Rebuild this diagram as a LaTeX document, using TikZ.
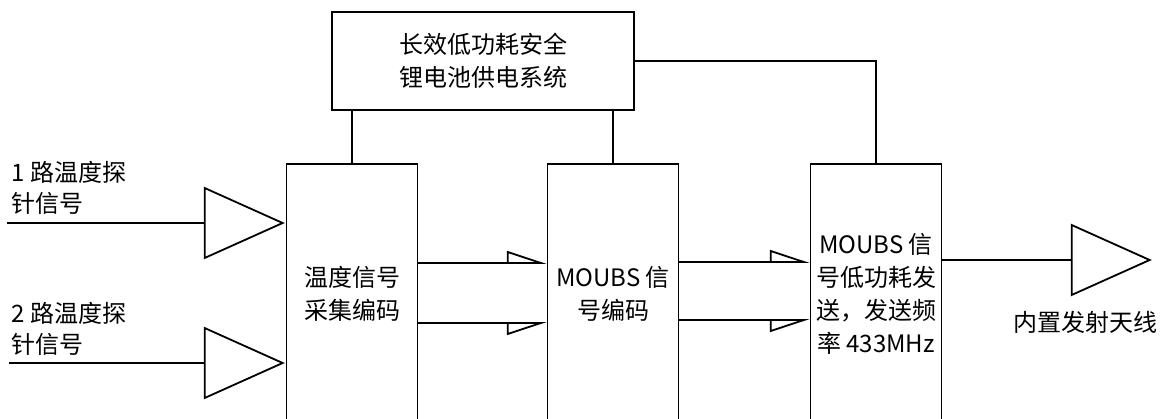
\documentclass[tikz,border=0pt]{standalone}
\usepackage{fontspec}
\setmainfont{Noto Sans CJK SC}
\usetikzlibrary{positioning, arrows.meta, shapes.geometric}

\tikzset{
  ln/.style={line width=1.8pt},
  blk/.style={draw, ln, minimum width=131pt, align=center, inner sep=0pt},
  amp/.style={draw, ln, isosceles triangle, isosceles triangle stretches,
    minimum width=70pt, minimum height=78pt, inner sep=0pt},
  hup/.style={ln, -{Triangle[open, left, length=37pt, width=24pt]}},
  hdn/.style={ln, -{Triangle[open, right, length=37pt, width=24pt]}},
}

\begin{document}
\begin{tikzpicture}[x=1pt, y=-1pt, font=\fontsize{24}{33}\selectfont]
\useasboundingbox (0,0) rectangle (1161,419);
\clip (0,0) rectangle (1161,419);

\node[blk, minimum width=302pt, minimum height=98pt] (pwr) at (483,61) {长效低功耗安全\\锂电池供电系统};
\node[blk, minimum height=260pt] (enc) at (352,294) {温度信号\\采集编码};
\node[blk, minimum height=260pt] (mod) at (613,294) {MOUBS 信\\号编码};
\node[blk, minimum height=260pt] (tx) at (876,294) {MOUBS 信\\号低功耗发\\送，发送频\\率 433MHz};

\node[amp, anchor=apex] (in1) at (285,223) {};
\node[amp, anchor=apex] (in2) at (285,363) {};
\node[amp, anchor=apex] (ant) at (1152,260) {};

\coordinate (s1) at (7,223);
\coordinate (s2) at (9,363);
\node[anchor=west, align=left, font=\fontsize{24}{31}\selectfont] (lab1) at (8,188) {1 路温度探\\针信号};
\node[anchor=west, align=left, font=\fontsize{24}{31}\selectfont] (lab2) at (8,329) {2 路温度探\\针信号};
\node (antlab) at (1085,322) {内置发射天线};

\draw[ln] (s1) -- (in1.west);
\draw[ln] (s2) -- (in2.west);

\draw[ln] (enc.north |- pwr.south) -- (enc.north);
\draw[ln] (mod.north |- pwr.south) -- (mod.north);
\draw[ln] (pwr.east) -- (pwr.east -| tx.north) -- (tx.north);

\draw[hup] ([yshift=31pt]enc.east) -- ([yshift=31pt]mod.west);
\draw[hdn] ([yshift=-29pt]enc.east) -- ([yshift=-29pt]mod.west);
\draw[hup] ([yshift=32pt]mod.east) -- ([yshift=32pt]tx.west);
\draw[hdn] ([yshift=-26pt]mod.east) -- ([yshift=-26pt]tx.west);

\draw[ln] ([yshift=34pt]tx.east) -- (ant.west);

\end{tikzpicture}
\end{document}
